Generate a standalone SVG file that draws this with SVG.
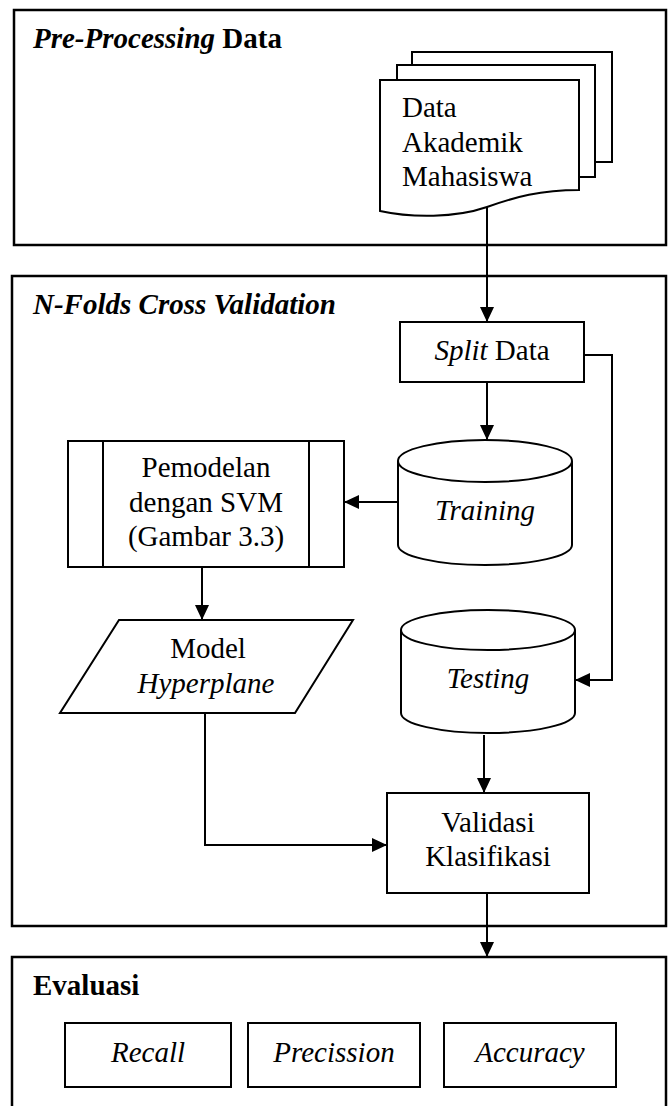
<svg xmlns="http://www.w3.org/2000/svg" width="668" height="1106" viewBox="0 0 668 1106">
<defs>
<style>
.frame{fill:#fff;stroke:#000;stroke-width:2.5}
.node{fill:#fff;stroke:#000;stroke-width:2}
.line{fill:none;stroke:#000;stroke-width:2}
text{font-family:"Liberation Serif","Times New Roman",serif;font-size:29px;fill:#000}
.title{font-weight:bold}
.c{text-anchor:middle}
.i{font-style:italic}
</style>
<marker id="ah" markerUnits="userSpaceOnUse" markerWidth="16" markerHeight="14" refX="15" refY="7" orient="auto">
<path d="M0,0 L15,7 L0,14 Z" fill="#000"/>
</marker>
</defs>

<g id="frame-preprocessing">
<rect class="frame" x="14" y="10" width="652" height="235"/>
<text class="title" x="33" y="48"><tspan class="i">Pre-Processing</tspan> Data</text>
</g>
<g id="frame-nfolds">
<rect class="frame" x="12" y="276" width="654" height="650"/>
<text class="title i" x="33" y="314">N-Folds Cross Validation</text>
</g>
<g id="frame-evaluasi">
<rect class="frame" x="12" y="957" width="654" height="160"/>
<text class="title" x="33" y="995">Evaluasi</text>
</g>

<g id="data-akademik">
<path class="line" d="M412,65 V52 H612 V162 H595"/>
<path class="line" d="M397,80 V65 H595 V177 H579"/>
<path class="node" d="M380,80 H579 V190 C540,190 515,197 487,207 C455,218 412,218 380,211 Z"/>
<text x="402" y="117">Data</text>
<text x="402" y="152">Akademik</text>
<text x="402" y="186">Mahasiswa</text>
</g>

<g id="split-data">
<rect class="node" x="400" y="322" width="184" height="60"/>
<text class="c" x="492" y="360"><tspan class="i">Split</tspan> Data</text>
</g>

<g id="training">
<path class="node" d="M398,461 V545 A87,20 0 0 0 572,545 V461"/>
<ellipse class="node" cx="485" cy="461" rx="87" ry="21"/>
<text class="c i" x="485" y="520">Training</text>
</g>

<g id="pemodelan">
<rect class="node" x="68" y="441" width="276" height="126"/>
<line class="line" x1="103" y1="441" x2="103" y2="567"/>
<line class="line" x1="309" y1="441" x2="309" y2="567"/>
<text class="c" x="206" y="477">Pemodelan</text>
<text class="c" x="206" y="512">dengan SVM</text>
<text class="c" x="206" y="546">(Gambar 3.3)</text>
</g>

<g id="model-hyperplane">
<polygon class="node" points="119,620 353,620 295,713 60,713"/>
<text class="c" x="208" y="658">Model</text>
<text class="c i" x="206" y="693">Hyperplane</text>
</g>

<g id="testing">
<path class="node" d="M401,630 V713 A87,20 0 0 0 575,713 V630"/>
<ellipse class="node" cx="488" cy="630" rx="87" ry="20"/>
<text class="c i" x="488" y="688">Testing</text>
</g>

<g id="validasi">
<rect class="node" x="387" y="793" width="202" height="100"/>
<text class="c" x="488" y="832">Validasi</text>
<text class="c" x="488" y="866">Klasifikasi</text>
</g>

<g id="recall">
<rect class="node" x="65" y="1023" width="166" height="64"/>
<text class="c i" x="148" y="1062">Recall</text>
</g>
<g id="precission">
<rect class="node" x="248" y="1023" width="172" height="64"/>
<text class="c i" x="334" y="1062">Precission</text>
</g>
<g id="accuracy">
<rect class="node" x="444" y="1023" width="172" height="64"/>
<text class="c i" x="530" y="1062">Accuracy</text>
</g>

<g id="connectors">
<path class="line" d="M487,207 V322" marker-end="url(#ah)"/>
<path class="line" d="M487,382 V440" marker-end="url(#ah)"/>
<path class="line" d="M398,502 H344" marker-end="url(#ah)"/>
<path class="line" d="M202,567 V620" marker-end="url(#ah)"/>
<path class="line" d="M205,713 V845 H387" marker-end="url(#ah)"/>
<path class="line" d="M584,355 H612 V680 H575" marker-end="url(#ah)"/>
<path class="line" d="M484,735 V793" marker-end="url(#ah)"/>
<path class="line" d="M487,893 V957" marker-end="url(#ah)"/>
</g>
</svg>
